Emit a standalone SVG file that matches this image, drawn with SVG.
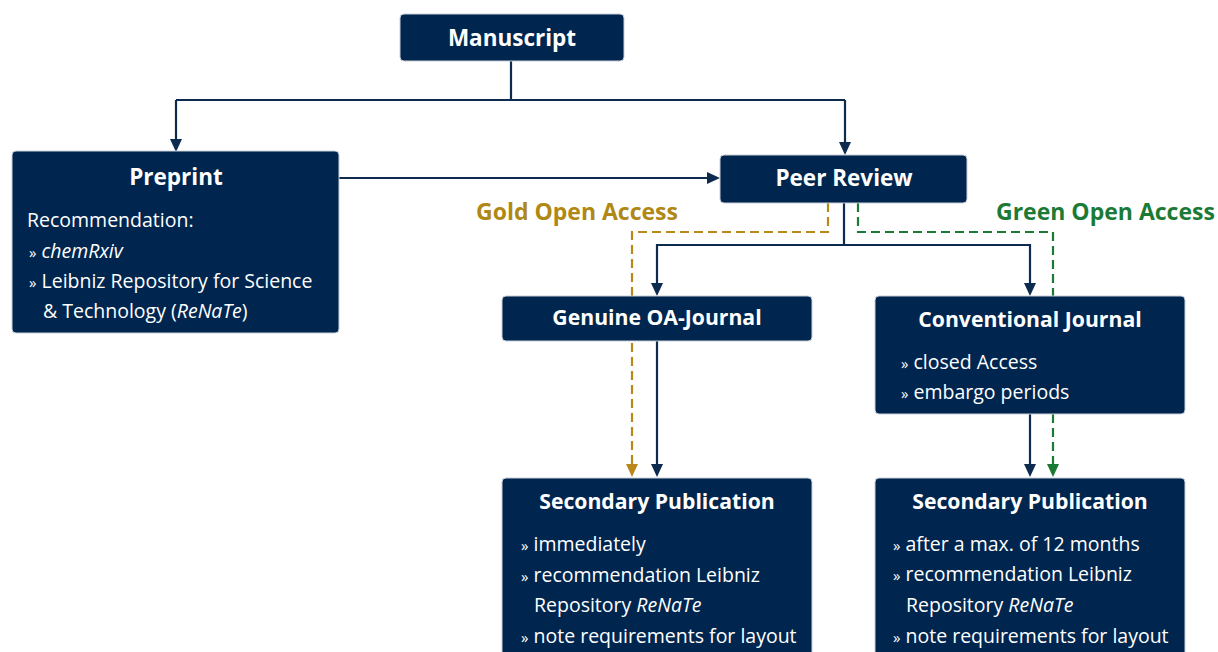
<svg xmlns="http://www.w3.org/2000/svg" width="1218" height="652" viewBox="0 0 1218 652">
<defs>
<style>
.box{fill:#00264f;stroke:#c9d0da;stroke-width:1}
.t{font-family:"Open Sans","Noto Sans",sans-serif;fill:#ffffff}
.h{font-weight:bold;font-size:22.5px;text-anchor:middle}
.h2{font-size:21.2px}
.b{font-size:19.5px}
.bu{font-size:15px}
.i{font-style:italic}
.ln{fill:none;stroke:#0c2b4e;stroke-width:2.2}
.gold{fill:none;stroke:#b8891a;stroke-width:2.2;stroke-dasharray:9,5}
.green{fill:none;stroke:#1b7a36;stroke-width:2.2;stroke-dasharray:9,5}
.lab{font-family:"Open Sans","Noto Sans",sans-serif;font-weight:bold;font-size:23px}
</style>
</defs>
<rect width="1218" height="652" fill="#ffffff"/>
<g id="connectors">
<path class="ln" d="M511,61 V100 M176,100 H845"/>
<path class="ln" d="M176,100 V140"/>
<path d="M170,139 L182,139 L176,152 z" fill="#0c2b4e"/>
<path class="ln" d="M845,100 V143"/>
<path d="M839,142 L851,142 L845,155 z" fill="#0c2b4e"/>
<path class="ln" d="M339,178 H708"/>
<path d="M707,172 L707,184 L720,178 z" fill="#0c2b4e"/>
<path class="ln" d="M844,203 V245 M657,245 H1030"/>
<path class="ln" d="M657,244 V284"/>
<path d="M651,283 L663,283 L657,296 z" fill="#0c2b4e"/>
<path class="ln" d="M1030,244 V284"/>
<path d="M1024,283 L1036,283 L1030,296 z" fill="#0c2b4e"/>
<path class="gold" d="M828,203 V232 H632 V465"/>
<path d="M626,464 L638,464 L632,477 z" fill="#b8891a"/>
<path class="green" d="M858,203 V232 H1053 V465"/>
<path d="M1047,464 L1059,464 L1053,477 z" fill="#1b7a36"/>
<path class="ln" d="M657,341 V465"/>
<path d="M651,464 L663,464 L657,477 z" fill="#0c2b4e"/>
<path class="ln" d="M1030,414 V465"/>
<path d="M1024,464 L1036,464 L1030,477 z" fill="#0c2b4e"/>
<text class="lab" x="476" y="220" fill="#b08815">Gold Open Access</text>
<text class="lab" x="996" y="220" fill="#1b7a36">Green Open Access</text>
</g>
<g id="manuscript">
<rect class="box" x="400" y="14" width="224" height="47" rx="4"/>
<text class="t h" x="512" y="46">Manuscript</text>
</g>
<g id="preprint">
<rect class="box" x="12" y="151" width="327" height="182" rx="4"/>
<text class="t h" x="176" y="185">Preprint</text>
<text class="t b" x="27" y="227">Recommendation:</text>
<text class="t b" x="29" y="258"><tspan class="bu">»</tspan> <tspan class="i">chemRxiv</tspan></text>
<text class="t b" x="29" y="288"><tspan class="bu">»</tspan> Leibniz Repository for Science</text>
<text class="t b" x="43" y="318">&amp; Technology (<tspan class="i">ReNaTe</tspan>)</text>
</g>
<g id="peer-review">
<rect class="box" x="720" y="155" width="247" height="48" rx="4"/>
<text class="t h" x="844" y="186">Peer Review</text>
</g>
<g id="genuine-oa">
<rect class="box" x="502" y="296" width="310" height="45" rx="4"/>
<text class="t h h2" x="657" y="325">Genuine OA-Journal</text>
</g>
<g id="conventional">
<rect class="box" x="875" y="296" width="310" height="118" rx="4"/>
<text class="t h h2" x="1030" y="327">Conventional Journal</text>
<text class="t b" x="901" y="369"><tspan class="bu">»</tspan> closed Access</text>
<text class="t b" x="901" y="399"><tspan class="bu">»</tspan> embargo periods</text>
</g>
<g id="secondary-gold">
<rect class="box" x="502" y="478" width="310" height="190" rx="4"/>
<text class="t h h2" x="657" y="509">Secondary Publication</text>
<text class="t b" x="521" y="551"><tspan class="bu">»</tspan> immediately</text>
<text class="t b" x="521" y="582"><tspan class="bu">»</tspan> recommendation Leibniz</text>
<text class="t b" x="534" y="612">Repository <tspan class="i">ReNaTe</tspan></text>
<text class="t b" x="521" y="643"><tspan class="bu">»</tspan> note requirements for layout</text>
</g>
<g id="secondary-green">
<rect class="box" x="875" y="478" width="310" height="190" rx="4"/>
<text class="t h h2" x="1030" y="509">Secondary Publication</text>
<text class="t b" x="893" y="551"><tspan class="bu">»</tspan> after a max. of 12 months</text>
<text class="t b" x="893" y="581"><tspan class="bu">»</tspan> recommendation Leibniz</text>
<text class="t b" x="906" y="612">Repository <tspan class="i">ReNaTe</tspan></text>
<text class="t b" x="893" y="643"><tspan class="bu">»</tspan> note requirements for layout</text>
</g>
</svg>
